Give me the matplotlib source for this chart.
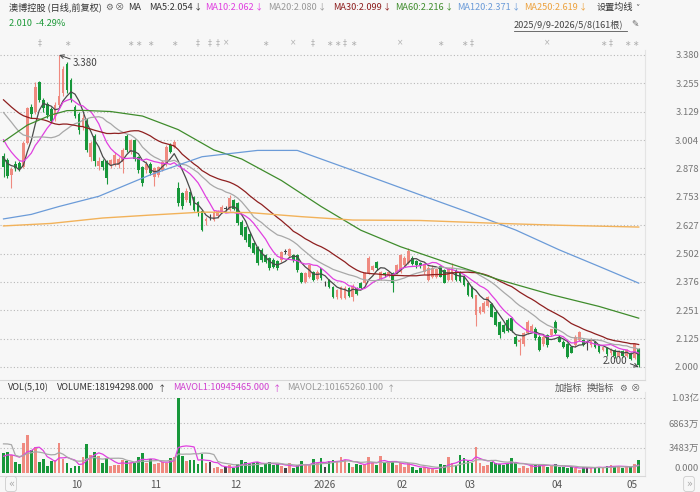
import numpy as np
import pandas as pd
import matplotlib
matplotlib.use("Agg")
import matplotlib.pyplot as plt
from matplotlib.lines import Line2D

plt.rcParams['font.family'] = ['Noto Sans CJK SC', 'DejaVu Sans']

# ---- daily candles 2025/9/9 - 2026/5/8 (161 bars) ----
opens = [2.933, 2.915, 2.850, 2.900, 2.904, 2.886, 2.990, 3.150, 3.130, 3.262,
         3.180, 3.165, 3.140, 3.100, 3.160, 3.210, 3.340, 3.270, 3.150, 3.120,
         3.060, 3.090, 2.930, 3.020, 2.890, 2.910, 2.910, 2.893, 2.900, 2.895,
         2.908, 3.020, 2.953, 3.005, 2.930, 2.886, 2.870, 2.900, 2.840, 2.850,
         2.872, 2.900, 2.982, 2.975, 2.790, 2.770, 2.740, 2.776, 2.750, 2.730,
         2.690, 2.645, 2.662, 2.650, 2.670, 2.687, 2.700, 2.695, 2.740, 2.724,
         2.643, 2.620, 2.590, 2.547, 2.530, 2.518, 2.495, 2.480, 2.473, 2.470,
         2.473, 2.510, 2.490, 2.495, 2.495, 2.414, 2.378, 2.400, 2.420, 2.390,
         2.436, 2.370, 2.385, 2.355, 2.310, 2.305, 2.305, 2.350, 2.310, 2.350,
         2.370, 2.370, 2.414, 2.430, 2.466, 2.390, 2.415, 2.405, 2.414, 2.414,
         2.420, 2.450, 2.460, 2.480, 2.470, 2.460, 2.420, 2.385, 2.400, 2.400,
         2.445, 2.430, 2.385, 2.385, 2.430, 2.420, 2.400, 2.370, 2.355, 2.230,
         2.240, 2.245, 2.270, 2.280, 2.245, 2.200, 2.186, 2.210, 2.215, 2.134,
         2.110, 2.100, 2.150, 2.160, 2.170, 2.134, 2.100, 2.140, 2.140, 2.200,
         2.134, 2.112, 2.100, 2.090, 2.098, 2.120, 2.120, 2.100, 2.098, 2.112,
         2.098, 2.075, 2.085, 2.060, 2.075, 2.050, 2.070, 2.050, 2.060, 2.040, 2.080]
highs = [2.945, 2.925, 2.885, 2.910, 2.910, 3.000, 3.150, 3.165, 3.262, 3.265,
         3.190, 3.170, 3.150, 3.170, 3.380, 3.330, 3.350, 3.280, 3.160, 3.130,
         3.120, 3.100, 3.000, 3.030, 2.930, 2.920, 2.915, 2.920, 2.950, 2.930,
         2.970, 3.030, 3.010, 3.010, 2.935, 2.890, 2.910, 2.905, 2.885, 2.890,
         2.915, 2.980, 2.990, 3.005, 2.820, 2.775, 2.790, 2.780, 2.755, 2.735,
         2.695, 2.665, 2.675, 2.695, 2.695, 2.715, 2.710, 2.760, 2.745, 2.730,
         2.650, 2.625, 2.595, 2.555, 2.535, 2.525, 2.500, 2.485, 2.480, 2.475,
         2.515, 2.520, 2.525, 2.500, 2.500, 2.420, 2.420, 2.455, 2.425, 2.430,
         2.440, 2.380, 2.390, 2.360, 2.345, 2.360, 2.360, 2.355, 2.365, 2.355,
         2.375, 2.420, 2.490, 2.450, 2.470, 2.425, 2.420, 2.420, 2.420, 2.455,
         2.500, 2.490, 2.525, 2.490, 2.475, 2.465, 2.460, 2.445, 2.450, 2.440,
         2.450, 2.435, 2.440, 2.460, 2.435, 2.425, 2.405, 2.375, 2.360, 2.320,
         2.270, 2.290, 2.315, 2.285, 2.250, 2.205, 2.190, 2.215, 2.220, 2.140,
         2.130, 2.155, 2.210, 2.190, 2.175, 2.140, 2.140, 2.145, 2.170, 2.210,
         2.140, 2.120, 2.105, 2.095, 2.140, 2.160, 2.125, 2.120, 2.130, 2.115,
         2.100, 2.090, 2.090, 2.085, 2.080, 2.075, 2.075, 2.080, 2.065, 2.100, 2.085]
lows = [2.840, 2.835, 2.790, 2.865, 2.865, 2.880, 2.985, 3.100, 3.120, 3.170,
        3.130, 3.100, 3.080, 3.090, 3.150, 3.200, 3.210, 3.170, 3.100, 3.030,
        3.050, 2.950, 2.910, 2.890, 2.870, 2.870, 2.810, 2.880, 2.890, 2.880,
        2.860, 2.950, 2.940, 2.910, 2.860, 2.800, 2.860, 2.850, 2.800, 2.840,
        2.865, 2.890, 2.945, 2.970, 2.710, 2.700, 2.730, 2.715, 2.690, 2.670,
        2.600, 2.630, 2.650, 2.645, 2.660, 2.680, 2.690, 2.690, 2.695, 2.630,
        2.580, 2.555, 2.525, 2.500, 2.450, 2.465, 2.460, 2.430, 2.440, 2.430,
        2.465, 2.500, 2.485, 2.465, 2.420, 2.370, 2.370, 2.395, 2.380, 2.385,
        2.385, 2.360, 2.350, 2.305, 2.300, 2.300, 2.300, 2.310, 2.290, 2.320,
        2.345, 2.365, 2.410, 2.425, 2.430, 2.385, 2.400, 2.400, 2.330, 2.410,
        2.415, 2.445, 2.455, 2.450, 2.440, 2.440, 2.410, 2.380, 2.395, 2.395,
        2.400, 2.370, 2.380, 2.380, 2.380, 2.375, 2.360, 2.315, 2.305, 2.180,
        2.235, 2.240, 2.265, 2.220, 2.180, 2.130, 2.150, 2.155, 2.155, 2.095,
        2.053, 2.095, 2.145, 2.155, 2.120, 2.070, 2.095, 2.090, 2.135, 2.145,
        2.110, 2.085, 2.040, 2.060, 2.090, 2.115, 2.095, 2.075, 2.090, 2.085,
        2.060, 2.070, 2.050, 2.055, 2.040, 2.045, 2.045, 2.045, 2.030, 2.035, 2.000]
closes = [2.883, 2.845, 2.875, 2.878, 2.874, 2.990, 3.144, 3.120, 3.240, 3.180,
          3.145, 3.115, 3.090, 3.160, 3.200, 3.320, 3.225, 3.180, 3.110, 3.050,
          3.100, 2.960, 2.990, 2.910, 2.910, 2.885, 2.835, 2.915, 2.938, 2.920,
          2.960, 2.960, 3.005, 2.920, 2.870, 2.812, 2.900, 2.857, 2.880, 2.886,
          2.908, 2.975, 2.953, 2.997, 2.725, 2.710, 2.780, 2.724, 2.695, 2.680,
          2.606, 2.655, 2.662, 2.687, 2.690, 2.709, 2.700, 2.746, 2.700, 2.635,
          2.584, 2.560, 2.532, 2.503, 2.459, 2.473, 2.466, 2.437, 2.444, 2.437,
          2.510, 2.510, 2.520, 2.473, 2.430, 2.378, 2.414, 2.450, 2.385, 2.420,
          2.392, 2.370, 2.356, 2.310, 2.340, 2.355, 2.350, 2.315, 2.360, 2.325,
          2.350, 2.414, 2.480, 2.445, 2.437, 2.420, 2.405, 2.418, 2.370, 2.450,
          2.495, 2.480, 2.515, 2.455, 2.450, 2.445, 2.455, 2.440, 2.440, 2.435,
          2.400, 2.370, 2.436, 2.440, 2.385, 2.380, 2.363, 2.320, 2.310, 2.320,
          2.265, 2.285, 2.310, 2.223, 2.186, 2.140, 2.157, 2.160, 2.160, 2.100,
          2.120, 2.150, 2.200, 2.180, 2.130, 2.075, 2.134, 2.098, 2.170, 2.150,
          2.112, 2.090, 2.046, 2.060, 2.134, 2.155, 2.098, 2.100, 2.125, 2.090,
          2.068, 2.088, 2.058, 2.080, 2.050, 2.070, 2.050, 2.075, 2.035, 2.100, 2.010]
# volume in 万股
volumes = [2794, 2885, 2473, 1466, 1237, 4168, 5221, 3160, 3618, 1557,
           1878, 1008, 1649, 1786, 4076, 1878, 1328, 641, 962, 1008,
           2244, 3939, 2473, 2840, 2336, 1328, 2015, 1008, 1099, 1053,
           1786, 1649, 1420, 1328, 2244, 2794, 1420, 1878, 1237, 1420,
           1557, 1328, 2015, 2244, 10300, 2336, 1695, 1786, 1786, 1237,
           2611, 1328, 1557, 641, 870, 504, 779, 1099, 733, 1237,
           1786, 1511, 1328, 1420, 1557, 870, 1328, 1557, 1099, 1237,
           962, 641, 1328, 641, 1099, 1695, 1053, 1099, 1878, 1328,
           2015, 870, 1695, 1786, 1603, 2244, 1786, 1420, 870, 1237,
           1099, 1191, 2244, 1328, 1099, 2336, 1557, 1420, 1466, 1099,
           1420, 870, 1328, 870, 412, 641, 870, 641, 504, 412,
           1191, 1099, 2244, 1328, 1099, 2473, 2015, 1695, 1328, 3618,
           1328, 962, 1099, 1557, 1328, 1237, 1099, 1328, 2015, 1557,
           641, 962, 641, 1099, 1053, 1237, 1053, 870, 1053, 1191,
           870, 870, 641, 870, 641, 412, 870, 779, 733, 870,
           733, 733, 1008, 1099, 962, 900, 641, 870, 870, 1260, 1819]

# closes / volumes just before the window (so the short MAs start at the left edge)
pre_closes = [3.33, 3.35, 3.31, 3.28, 3.30, 3.33, 3.29, 3.25, 3.27, 3.23,
              3.27, 3.31, 3.33, 3.29, 3.25, 3.23, 3.26, 3.20, 3.17, 3.15,
              3.15, 3.12, 3.08, 3.05, 3.02, 2.98, 2.92, 2.90, 2.95]
pre_volumes = [3000, 3500, 16000, 3000, 3000, 2000, 2400, 2100, 2206]

# long averages
ma60_idx = [0, 6, 12, 16, 20, 27, 35, 44, 53, 60, 70, 80, 90, 100, 112, 125, 138, 150, 160]
ma60_val = [2.997, 3.07, 3.115, 3.134, 3.135, 3.13, 3.11, 3.05, 2.96, 2.92, 2.825, 2.71,
            2.605, 2.532, 2.46, 2.385, 2.32, 2.268, 2.216]
ma120_idx = [0, 7, 14, 24, 37, 50, 64, 74, 90, 105, 117, 129, 140, 150, 160]
ma120_val = [2.655, 2.675, 2.71, 2.755, 2.85, 2.93, 2.958, 2.958, 2.857, 2.761, 2.685,
             2.606, 2.518, 2.445, 2.371]
ma250_idx = [0, 12, 25, 37, 50, 62, 75, 88, 105, 125, 140, 160]
ma250_val = [2.624, 2.635, 2.659, 2.672, 2.685, 2.683, 2.665, 2.65, 2.648, 2.635, 2.627, 2.619]

month_idx = [16, 36, 56, 77, 98, 115, 137, 156]
month_labels = ['10', '11', '12', '2026', '02', '03', '04', '05']
price_ticks = [3.380, 3.255, 3.129, 3.004, 2.878, 2.753, 2.627, 2.502, 2.376, 2.251, 2.125, 2.000]
vol_ticks = [10300, 6863, 3483, 0]
vol_tick_labels = ['1.03亿', '6863万', '3483万', '0.000']

event_idx = [9, 16, 32, 34, 37, 43, 49, 52, 54, 56, 66, 73, 78, 82, 84, 86, 88, 100,
             110, 116, 118, 137, 151, 153, 157, 159]
event_marks = ['‡', '∗', '∗', '∗', '∗', '∗', '‡', '‡', '‡', '×', '∗', '×', '‡', '∗', '∗', '‡',
               '∗', '×', '∗', '∗', '‡', '×', '∗', '‡', '∗', '∗']

ma_header = [('MA5', '2.054'), ('MA10', '2.062'), ('MA20', '2.080'), ('MA30', '2.099'),
             ('MA60', '2.216'), ('MA120', '2.371'), ('MA250', '2.619')]
ma_header_x = [149, 205, 268, 333, 395, 457, 524]

UP, DOWN, FLAT = '#ef8a80', '#17973a', '#444444'
MA_COLORS = {'MA5': '#4a4a4a', 'MA10': '#e040e0', 'MA20': '#a8a8a8', 'MA30': '#8e1f1f',
             'MA60': '#3f8c2c', 'MA120': '#6b9bd8', 'MA250': '#f2b25a'}
HDR_COLORS = dict(MA_COLORS, MA5='#333333', MA20='#999999', MA250='#eda23e')
BG = '#f7f7f7'
W, H = 700, 492


def fx(px):
    return px / W


def fy(py):
    return 1 - py / H


o = np.array(opens)
c = np.array(closes)
n = len(c)
idx = np.arange(n)
colors = np.where(c > o, UP, np.where(c < o, DOWN, FLAT))

all_c = pd.Series(pre_closes + closes)
all_v = pd.Series(pre_volumes + volumes)
k0 = len(pre_closes)
kv = len(pre_volumes)

fig = plt.figure(figsize=(7, 4.92), dpi=100, facecolor=BG)
renderer = fig.canvas.get_renderer()

# ---- price panel (3.380 at y=55px, 2.000 at y=367px) ----
kpx = 1.38 / 312
ax = fig.add_axes([0, fy(380), fx(645), (380 - 50) / H])
ax.set_facecolor(BG)
xl = (-3.5 / 3.97, (645 - 3.5) / 3.97)
ax.set_xlim(*xl)
ax.set_ylim(2.000 - 13 * kpx, 3.380 + 5 * kpx)

for y in price_ticks:
    ax.axhline(y, color='#b8b8b8', lw=0.8, ls=(0, (1, 2)), zorder=0)

ax.vlines(idx, lows, highs, colors=colors, lw=0.8, zorder=2)
body_lo = np.minimum(o, c)
body_h = np.maximum(np.abs(c - o), 0.0025)
ax.bar(idx, body_h, bottom=body_lo, width=0.7, color=colors, zorder=3)

for name, w in [('MA5', 5), ('MA10', 10), ('MA20', 20), ('MA30', 30)]:
    ma = all_c.rolling(w).mean().values[k0:]
    ax.plot(idx, ma, color=MA_COLORS[name], lw=0.9, zorder=4)
ax.plot(ma60_idx, ma60_val, color=MA_COLORS['MA60'], lw=0.9, zorder=4)
ax.plot(ma120_idx, ma120_val, color=MA_COLORS['MA120'], lw=0.9, zorder=4)
ax.plot(ma250_idx, ma250_val, color=MA_COLORS['MA250'], lw=1.0, zorder=4)

hi_i = int(np.argmax(highs))
lo_i = int(np.argmin(lows))
ax.annotate(f'{highs[hi_i]:.3f}', xy=(hi_i, highs[hi_i]), xytext=(hi_i + 3.5, highs[hi_i] - 0.035),
            ha='left', va='center', fontsize=7, color='#444',
            arrowprops=dict(arrowstyle='->', color='#444', lw=0.7, shrinkA=0, shrinkB=0,
                            relpos=(0, 0.8)))
ax.annotate(f'{lows[lo_i]:.3f}', xy=(lo_i, lows[lo_i]), xytext=(lo_i - 2.8, lows[lo_i] + 0.028),
            ha='right', va='center', fontsize=7, color='#444',
            arrowprops=dict(arrowstyle='->', color='#444', lw=0.7, shrinkA=0, shrinkB=0,
                            relpos=(1, 0.3)))

for i, m in zip(event_idx, event_marks):
    ax.text(i, 1.0212, m, transform=ax.get_xaxis_transform(), ha='center', va='center',
            fontsize=5.5, color='#b0b0b0', clip_on=False, family='DejaVu Sans')

ax.yaxis.tick_right()
ax.set_yticks(price_ticks)
ax.set_yticklabels([f'{t:.3f}' for t in price_ticks])
ax.tick_params(axis='y', length=0, pad=39, labelsize=6.8, labelcolor='#777')
for t in ax.get_yticklabels():
    t.set_ha('right')
ax.set_xticks([])
for s in ['top', 'left']:
    ax.spines[s].set_visible(False)
ax.spines['bottom'].set_color('#d8d8d8')
ax.spines['right'].set_color('#e4e4e4')

# ---- volume panel (1.03亿 at y=398px, 0 at y=473px) ----
vk = 10300 / 75
vax = fig.add_axes([0, fy(476), fx(645), (476 - 392) / H])
vax.set_facecolor(BG)
vax.set_xlim(*xl)
vax.set_ylim(-3 * vk, 81 * vk)
for y in vol_ticks[:-1]:
    vax.axhline(y, color='#b8b8b8', lw=0.8, ls=(0, (1, 2)), zorder=0)
vax.bar(idx, volumes, width=0.7, color=colors, zorder=2)
vax.plot(idx, all_v.rolling(5).mean().values[kv:], color='#e040e0', lw=0.9, zorder=3)
vax.plot(idx, all_v.rolling(10).mean().values[kv:], color='#a8a8a8', lw=0.9, zorder=3)

vax.yaxis.tick_right()
vax.set_yticks(vol_ticks)
vax.set_yticklabels(vol_tick_labels)
vax.tick_params(axis='y', length=0, pad=39, labelsize=6.8, labelcolor='#777')
for t in vax.get_yticklabels():
    t.set_ha('right')
vax.get_yticklabels()[-1].set_va('bottom')
vax.set_xticks([m + 1 for m in month_idx])
vax.set_xticklabels(month_labels)
vax.tick_params(axis='x', length=0, pad=3, labelsize=7.2, labelcolor='#555')
for t in vax.get_xticklabels():
    t.set_ha('left')
for s in ['top', 'left']:
    vax.spines[s].set_visible(False)
vax.spines['bottom'].set_color('#d8d8d8')
vax.spines['right'].set_color('#e4e4e4')


# ---- header texts ----
def put(px, py, s, color='#333', size=6.6, **kw):
    return fig.text(fx(px), fy(py), s, color=color, fontsize=size, va='center', ha='left', **kw)


def put_after(t, py, s, color, gap=2, size=6.6):
    # place a small sign just right of an existing text
    x1 = t.get_window_extent(renderer=renderer).x1
    return put(x1 + gap, py, s, color, size)


put(9, 7, '澳博控股 (日线,前复权)')
put(105, 7, '⚙', '#666', 6.3)
put(115, 7, '⊗', '#666', 6.8)
put(128, 7, 'MA')
for px, (name, val) in zip(ma_header_x, ma_header):
    col = HDR_COLORS[name]
    t = put(px, 7, f'{name}:{val}', col)
    put_after(t, 7, '↓', col, gap=1.5, size=6.0)
put(597, 7, '设置均线')
put(635, 8, '˅', '#555', 6.3, family='DejaVu Sans')

put(9, 24, '2.010  -4.29%', '#1f9a3a')
put(514, 24, '2025/9/9-2026/5/8(161根)', '#444', 6.6)
fig.add_artist(Line2D([fx(514), fx(627)], [fy(30.5), fy(30.5)], color='#555', lw=0.6))
put(631, 24, '✎', '#666', 6.3, family='DejaVu Sans')

put(8, 388, 'VOL(5,10)')
t = put(57, 388, 'VOLUME:18194298.000', '#333')
put_after(t, 388, '↑', '#333', gap=4, size=6.0)
t = put(173, 388, 'MAVOL1:10945465.000', '#d040d0')
put_after(t, 388, '↑', '#d040d0', gap=4, size=6.0)
t = put(287, 388, 'MAVOL2:10165260.100', '#999')
put_after(t, 388, '↑', '#999', gap=4, size=6.0)
put(555, 388, '加指标', '#555')
put(587, 388, '换指标', '#555')
put(619, 388, '⚙', '#666', 6.3)
put(631, 388, '⊗', '#666', 6.8)

for px, s in [(11, '«'), (689, '»')]:
    fig.text(fx(px), fy(484), s, ha='center', va='center', fontsize=7, color='#aaa',
             family='DejaVu Sans',
             bbox=dict(boxstyle='round,pad=0.25', fc=BG, ec='#cccccc', lw=0.6))

fig.savefig('out.png', dpi=100, facecolor=BG)
